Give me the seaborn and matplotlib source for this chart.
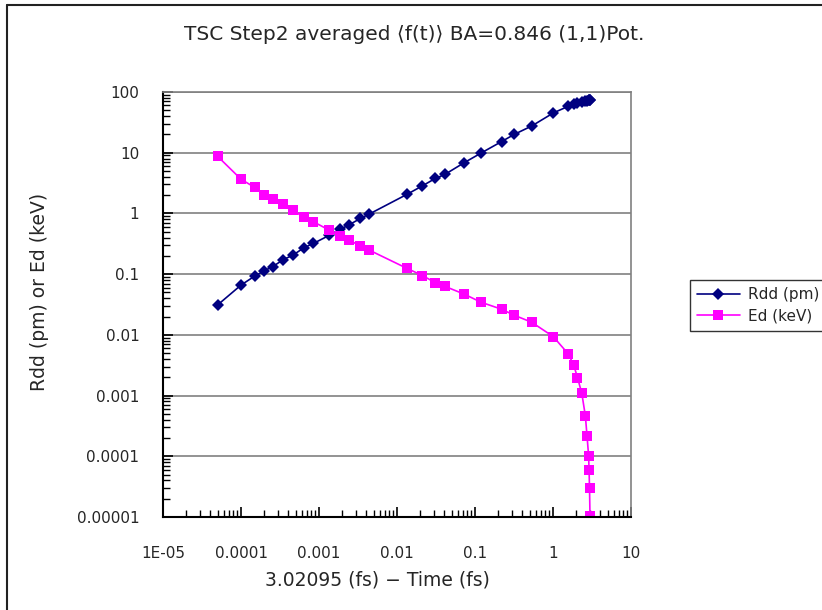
import matplotlib
matplotlib.use("Agg")
import matplotlib.pyplot as plt
from matplotlib.lines import Line2D
from matplotlib.ticker import FixedLocator, FixedFormatter, LogLocator, NullFormatter
import seaborn as sns
import pandas as pd

# ---- data ----
time_rdd = [5.0e-5, 1.0e-4, 1.5e-4, 2.0e-4, 2.55e-4, 3.5e-4, 4.65e-4, 6.4e-4, 8.5e-4,
            1.35e-3, 1.86e-3, 2.4e-3, 3.4e-3, 4.4e-3, 0.0135, 0.0212, 0.031, 0.041,
            0.072, 0.12, 0.22, 0.32, 0.535, 1.01, 1.57, 1.84, 2.06, 2.34, 2.6, 2.73,
            2.86, 2.9, 2.94, 2.98]
rdd_pm = [0.031, 0.066, 0.093, 0.114, 0.133, 0.174, 0.206, 0.272, 0.321,
          0.435, 0.546, 0.643, 0.828, 0.975, 2.07, 2.85, 3.77, 4.38,
          6.8, 9.9, 15.3, 20.1, 27.6, 45.2, 58.2, 62.8, 67.0, 68.5, 71.0, 72.0,
          73.0, 73.5, 74.0, 74.5]
time_ed = list(time_rdd)
ed_kev = [8.75, 3.66, 2.68, 2.02, 1.74, 1.41, 1.13, 0.859, 0.728,
          0.531, 0.428, 0.364, 0.293, 0.249, 0.124, 0.0948, 0.0723, 0.063,
          0.0471, 0.0344, 0.0264, 0.021, 0.0161, 0.00933, 0.00485, 0.0032,
          0.00198, 0.00109, 0.000463, 0.000217, 0.000103, 5.9e-5, 2.95e-5, 1.05e-5]
series_names = ["Rdd (pm)", "Ed (keV)"]
x_ticks = [1e-5, 1e-4, 1e-3, 1e-2, 1e-1, 1, 10]
x_tick_labels = ["1E-05", "0.0001", "0.001", "0.01", "0.1", "1", "10"]
y_ticks = [1e-5, 1e-4, 1e-3, 1e-2, 1e-1, 1, 10, 100]
y_tick_labels = ["0.00001", "0.0001", "0.001", "0.01", "0.1", "1", "10", "100"]
title = "TSC Step2 averaged \u27e8f(t)\u27e9 BA=0.846 (1,1)Pot."
x_label = "3.02095 (fs) \u2212 Time (fs)"
y_label = "Rdd (pm) or Ed (keV)"

df = pd.concat([
    pd.DataFrame({"x": time_rdd, "y": rdd_pm, "series": series_names[0]}),
    pd.DataFrame({"x": time_ed, "y": ed_kev, "series": series_names[1]}),
], ignore_index=True)

sns.set_style("white")
plt.rcParams["font.family"] = ["DejaVu Sans"]

fig = plt.figure(figsize=(8.22, 6.10), dpi=100)
ax = fig.add_axes([163/822, 1-517/610, (631-163)/822, (517-92)/610])

sns.lineplot(data=df, x="x", y="y", hue="series", style="series",
             hue_order=series_names, style_order=series_names,
             palette={"Rdd (pm)": "#000080", "Ed (keV)": "#FF00FF"},
             markers={"Rdd (pm)": "D", "Ed (keV)": "s"}, dashes=False,
             estimator=None, sort=False, ax=ax, linewidth=1.2,
             markersize=6.5, markeredgewidth=0, legend=True)

ax.set_xscale("log")
ax.set_yscale("log")
ax.set_xlim(1e-5, 10)
ax.set_ylim(1e-5, 100)

ax.xaxis.set_major_locator(FixedLocator(x_ticks))
ax.xaxis.set_major_formatter(FixedFormatter(x_tick_labels))
ax.yaxis.set_major_locator(FixedLocator(y_ticks))
ax.yaxis.set_major_formatter(FixedFormatter(y_tick_labels))
ax.xaxis.set_minor_locator(LogLocator(base=10, subs=range(2, 10), numticks=20))
ax.yaxis.set_minor_locator(LogLocator(base=10, subs=range(2, 10), numticks=20))
ax.xaxis.set_minor_formatter(NullFormatter())
ax.yaxis.set_minor_formatter(NullFormatter())

ax.tick_params(axis="both", which="major", direction="in", length=7, width=1.2,
               color="black", labelsize=11)
ax.tick_params(axis="both", which="minor", direction="in", length=5, width=1,
               color="black")
ax.tick_params(axis="x", which="both", bottom=True, top=False, pad=21)
ax.tick_params(axis="y", which="both", left=True, right=False, pad=17)

ax.yaxis.grid(True, which="major", color="#808080", linewidth=1.2)
ax.xaxis.grid(False)
ax.set_axisbelow(True)

for s in ["left", "bottom"]:
    ax.spines[s].set_color("black")
    ax.spines[s].set_linewidth(1.5)
for s in ["top", "right"]:
    ax.spines[s].set_color("#808080")
    ax.spines[s].set_linewidth(1.2)

ax.set_xlabel(x_label, fontsize=13.5)
ax.set_ylabel(y_label, fontsize=13.5)
ax.xaxis.set_label_coords(0.459, -0.125)
ax.yaxis.set_label_coords(-0.244, 0.53)

fig.text(414/822, 1-35/610, title, ha="center", va="center", fontsize=14.5)

handles, labels = ax.get_legend_handles_labels()
leg = ax.legend(handles, labels, loc="upper left",
                bbox_to_anchor=(690/822, 1-280/610), bbox_transform=fig.transFigure,
                borderaxespad=0, frameon=True, fancybox=False, fontsize=11,
                handlelength=2.8, handletextpad=0.55, borderpad=0.45,
                labelspacing=0.45)
leg.get_frame().set_edgecolor("black")
leg.get_frame().set_linewidth(1)

# outer chart-area frame (left and top edges visible; the rest is cropped)
fig.add_artist(Line2D([7/822, 7/822], [0, 1-5/610], transform=fig.transFigure,
                      color="#222222", linewidth=1.5))
fig.add_artist(Line2D([7/822, 1], [1-5/610, 1-5/610], transform=fig.transFigure,
                      color="#222222", linewidth=1.5))

fig.savefig("out.png", dpi=100)
